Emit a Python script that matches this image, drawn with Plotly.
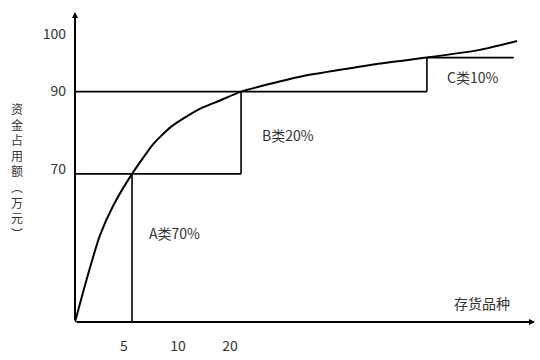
import plotly.graph_objects as go

# Display units: x 0..100 across the horizontal axis, y 0..104 up the vertical axis (schematic chart)
curve_x = [0, 2.6, 5.4, 8.3, 12.4, 17.0, 20.7, 24.3, 27.8, 31.5, 36.1, 48.9, 66.3, 76.5, 88.0, 96.1]
curve_y = [0, 14.7, 29.0, 39.0, 49.7, 59.7, 65.3, 69.0, 72.0, 74.3, 77.3, 82.3, 86.7, 88.7, 91.3, 94.3]

# ABC cut points (A, B, C)
cut_x = [12.4, 36.1, 76.5]
cut_y = [49.7, 77.3, 88.7]
c_line_end = 95.4

class_labels = ["A类70%", "B类20%", "C类10%"]
class_label_x = [21.7, 46.3, 86.5]
class_label_y = [29.7, 62.7, 82.3]

x_tick_vals = [10.65, 22.4, 33.7]
x_tick_text = ["5", "10", "20"]
y_tick_vals = [96.7, 77.3, 51.3]
y_tick_text = ["100", "90", "70"]

y_title = ["资", "金", "占", "用", "额", "︵", "万", "元", "︶"]
x_title = "存货品种"

FONT = "Noto Sans CJK SC"
TXT = "#333333"
LW = 1.6

fig = go.Figure()

def seg(xs, ys, w=LW):
    fig.add_trace(go.Scatter(x=xs, y=ys, mode="lines",
                             line=dict(color="black", width=w),
                             hoverinfo="skip", showlegend=False))

# A region
seg([0, cut_x[1]], [cut_y[0], cut_y[0]])
seg([cut_x[0], cut_x[0]], [0, cut_y[0]])
# B region
seg([cut_x[1], cut_x[1]], [cut_y[0], cut_y[1]])
seg([0, cut_x[2]], [cut_y[1], cut_y[1]])
# C region
seg([cut_x[2], cut_x[2]], [cut_y[1], cut_y[2]])
seg([cut_x[2], c_line_end], [cut_y[2], cut_y[2]])

# Curve
fig.add_trace(go.Scatter(x=curve_x, y=curve_y, mode="lines",
                         line=dict(color="black", width=2, shape="spline", smoothing=0.5),
                         hoverinfo="skip", showlegend=False))

# Axes with arrows
fig.add_annotation(x=100, y=0, ax=0, ay=0, xref="x", yref="y", axref="x", ayref="y",
                   showarrow=True, arrowhead=2, arrowsize=0.6, arrowwidth=2, arrowcolor="black", text="")
fig.add_annotation(x=0, y=104, ax=0, ay=0, xref="x", yref="y", axref="x", ayref="y",
                   showarrow=True, arrowhead=2, arrowsize=0.6, arrowwidth=2, arrowcolor="black", text="")

for t, x, y in zip(class_labels, class_label_x, class_label_y):
    fig.add_annotation(x=x, y=y, xref="x", yref="y", text=t, showarrow=False,
                       xanchor="center", yanchor="middle",
                       font=dict(family=FONT, size=14, color=TXT))

fig.add_annotation(x=88.5, y=6.3, xref="x", yref="y", text=x_title, showarrow=False,
                   xanchor="center", yanchor="middle",
                   font=dict(family=FONT, size=14, color=TXT))

# Vertical y-axis title, stacked one character per line
fig.add_annotation(x=(17 - 75) / 460, y=(324 - 172) / 312, xref="paper", yref="paper",
                   text="<br>".join(y_title), showarrow=False,
                   xanchor="center", yanchor="middle", align="center",
                   font=dict(family=FONT, size=12, color=TXT))

fig.update_xaxes(range=[0, 100], showgrid=False, zeroline=False, showline=False,
                 tickmode="array", tickvals=x_tick_vals, ticktext=x_tick_text, ticks="",
                 ticklabelstandoff=14, tickfont=dict(family=FONT, size=14, color=TXT))
fig.update_yaxes(range=[0, 104], showgrid=False, zeroline=False, showline=False,
                 tickmode="array", tickvals=y_tick_vals, ticktext=y_tick_text, ticks="",
                 ticklabelstandoff=8, tickfont=dict(family=FONT, size=14, color=TXT))

fig.update_layout(width=540, height=360, margin=dict(l=75, r=5, t=12, b=36),
                  plot_bgcolor="white", paper_bgcolor="white")

fig.write_html("out.html")
